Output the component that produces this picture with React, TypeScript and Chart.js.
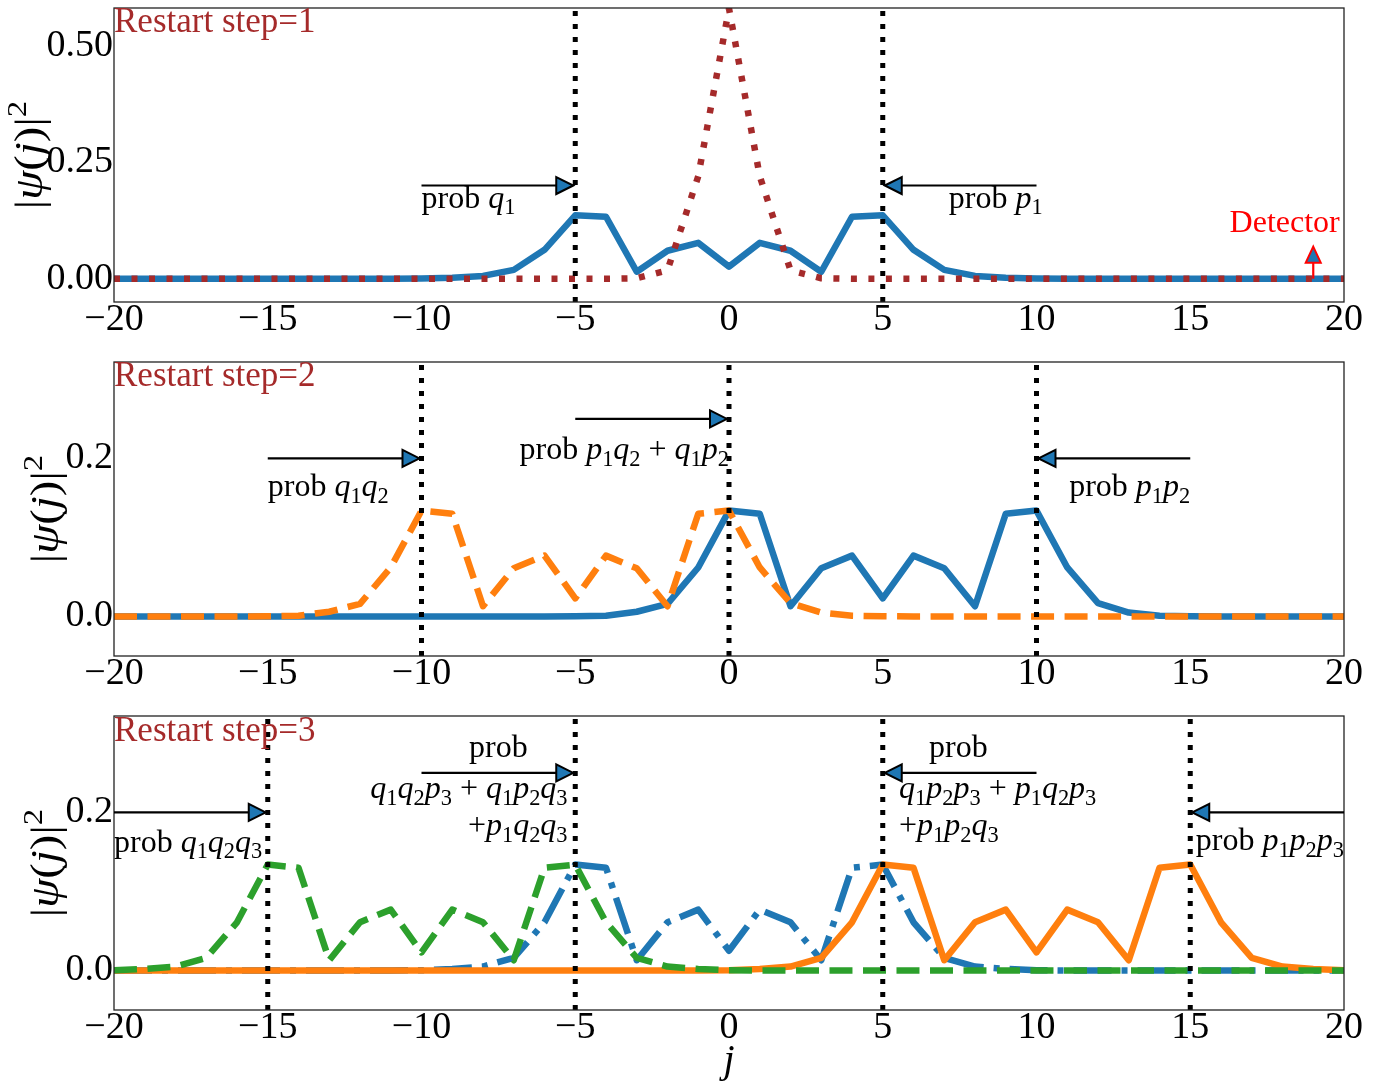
import React, { useEffect, useRef } from "react";
import { Chart, registerables } from "chart.js";
Chart.register(...registerables);

// ---------------- data ----------------
const J = [-20, -19, -18, -17, -16, -15, -14, -13, -12, -11, -10, -9, -8, -7, -6, -5, -4, -3, -2, -1, 0,
  1, 2, 3, 4, 5, 6, 7, 8, 9, 10, 11, 12, 13, 14, 15, 16, 17, 18, 19, 20];

// Panel 1 (restart step 1)
const P1_BLUE = [0, 0, 0, 0, 0, 0, 0, 0, 0, 0,
  0.0003, 0.002, 0.006, 0.019, 0.062, 0.136, 0.133, 0.015, 0.060, 0.077, 0.026,
  0.077, 0.060, 0.015, 0.133, 0.136, 0.062, 0.019, 0.006, 0.002, 0.0003,
  0, 0, 0, 0, 0, 0, 0, 0, 0, 0];
const P1_RED = [0, 0, 0, 0, 0, 0, 0, 0, 0, 0, 0, 0, 0, 0, 0, 0, 0,
  0.001, 0.018, 0.22, 0.58, 0.22, 0.018, 0.001,
  0, 0, 0, 0, 0, 0, 0, 0, 0, 0, 0, 0, 0, 0, 0, 0, 0];

// Panel 2 (restart step 2)
const P2_BLUE = [0, 0, 0, 0, 0, 0, 0, 0, 0, 0, 0, 0, 0, 0, 0,
  0.0003, 0.001, 0.006, 0.016, 0.062, 0.134, 0.130, 0.013, 0.061, 0.077, 0.023,
  0.077, 0.061, 0.013, 0.130, 0.134, 0.062, 0.017, 0.005, 0.001, 0.0003,
  0, 0, 0, 0, 0];
const P2_ORANGE = [0, 0, 0, 0, 0,
  0.0003, 0.001, 0.006, 0.016, 0.062, 0.134, 0.130, 0.013, 0.061, 0.077, 0.023,
  0.077, 0.061, 0.013, 0.130, 0.134, 0.062, 0.017, 0.005, 0.001, 0.0003,
  0, 0, 0, 0, 0, 0, 0, 0, 0, 0, 0, 0, 0, 0, 0];

// Panel 3 (restart step 3)
const P3_BLUE = [0, 0, 0, 0, 0, 0, 0, 0, 0, 0,
  0.0003, 0.002, 0.005, 0.016, 0.061, 0.134, 0.130, 0.013, 0.061, 0.077, 0.025,
  0.077, 0.061, 0.013, 0.130, 0.134, 0.061, 0.016, 0.005, 0.002, 0.0003,
  0, 0, 0, 0, 0, 0, 0, 0, 0, 0];
const P3_ORANGE = [0, 0, 0, 0, 0, 0, 0, 0, 0, 0, 0, 0, 0, 0, 0, 0, 0, 0, 0, 0,
  0.0003, 0.002, 0.005, 0.016, 0.061, 0.134, 0.130, 0.013, 0.061, 0.077, 0.023,
  0.077, 0.061, 0.013, 0.130, 0.134, 0.061, 0.016, 0.005, 0.002, 0.0003];
const P3_GREEN = [0.0003, 0.002, 0.005, 0.016, 0.061, 0.134, 0.130, 0.013, 0.061, 0.077, 0.023,
  0.077, 0.061, 0.013, 0.130, 0.134, 0.061, 0.016, 0.005, 0.002, 0.0003,
  0, 0, 0, 0, 0, 0, 0, 0, 0, 0, 0, 0, 0, 0, 0, 0, 0, 0, 0, 0];

const X_TICKS = [-20, -15, -10, -5, 0, 5, 10, 15, 20];
const X_TICK_LABELS = ["\u221220", "\u221215", "\u221210", "\u22125", "0", "5", "10", "15", "20"];
const Y_TICKS_1 = [0, 0.25, 0.5];
const Y_TICK_LABELS_1 = ["0.00", "0.25", "0.50"];
const Y_TICKS_23 = [0, 0.2];
const Y_TICK_LABELS_23 = ["0.0", "0.2"];

const VLINES_1 = [-5, 5];
const VLINES_2 = [-10, 0, 10];
const VLINES_3 = [-15, -5, 5, 15];

const Y_LABEL = "$|\u03c8(j)|^2$";
const X_LABEL = "$j$";

// ---------------- styles ----------------
const FAMILY = '"Liberation Serif", "Times New Roman", serif';
const BLUE = "#1f77b4";
const ORANGE = "#ff7f0e";
const GREEN = "#2ca02c";
const BROWN = "#a52a2a";
const LW = 6.5;
const DOTTED = [6, 11.5];
const DASHED = [23, 10.5];
const DASHDOT = [38, 10, 6, 10];

type Seg = { t: string; it?: boolean; sub?: boolean; sup?: boolean };
function parseRich(s: string): Seg[] {
  const out: Seg[] = [];
  let math = false;
  for (let i = 0; i < s.length; i++) {
    const c = s[i];
    if (c === "$") { math = !math; continue; }
    if (math && (c === "_" || c === "^")) {
      out.push({ t: s[i + 1], sub: c === "_", sup: c === "^" });
      i++;
      continue;
    }
    if (math && /[a-zA-Z\u03c8]/.test(c)) out.push({ t: c, it: true });
    else out.push({ t: c });
  }
  return out;
}
function drawRich(ctx: CanvasRenderingContext2D, s: string, x: number, y: number, size: number,
  align: string, color: string) {
  const segs = parseRich(s);
  const fontFor = (g: Seg) => `${g.it ? "italic " : ""}${g.sub || g.sup ? size * 0.7 : size}px ${FAMILY}`;
  let w = 0;
  const ws = segs.map((g) => { ctx.font = fontFor(g); const m = ctx.measureText(g.t).width; w += m; return m; });
  let cx = align === "left" ? x : align === "right" ? x - w : x - w / 2;
  ctx.fillStyle = color;
  ctx.textAlign = "left";
  ctx.textBaseline = "alphabetic";
  segs.forEach((g, i) => {
    ctx.font = fontFor(g);
    const dy = g.sub ? size * 0.2 : g.sup ? -size * 0.4 : 0;
    ctx.fillText(g.t, cx, y + dy);
    cx += ws[i];
  });
}

function drawArrow(ctx: CanvasRenderingContext2D, x0: number, y0: number, x1: number, y1: number,
  fill: string, edge: string, shaft: string, headLen: number, headW: number) {
  const ang = Math.atan2(y1 - y0, x1 - x0);
  const tx = x1 - 2 * Math.cos(ang), ty = y1 - 2 * Math.sin(ang);
  const bx = tx - headLen * Math.cos(ang), by = ty - headLen * Math.sin(ang);
  ctx.setLineDash([]);
  ctx.strokeStyle = shaft;
  ctx.lineWidth = 2.2;
  ctx.beginPath();
  ctx.moveTo(x0, y0);
  ctx.lineTo(bx, by);
  ctx.stroke();
  const nx = -Math.sin(ang), ny = Math.cos(ang);
  ctx.beginPath();
  ctx.moveTo(tx, ty);
  ctx.lineTo(bx + nx * headW / 2, by + ny * headW / 2);
  ctx.lineTo(bx - nx * headW / 2, by - ny * headW / 2);
  ctx.closePath();
  ctx.fillStyle = fill;
  ctx.fill();
  ctx.strokeStyle = edge;
  ctx.lineWidth = 2;
  ctx.lineJoin = "miter";
  ctx.stroke();
}

type Ann = { from: number[]; to: number[]; fill?: string; edge?: string; shaft?: string; hl?: number; hw?: number };
type Txt = { s: string; x: number; y: number; align: string; color?: string; size?: number };
type Panel = {
  key: string;
  series: { values: number[]; color: string; dash: number[]; order: number }[];
  yMin: number; yMax: number; yTicks: number[]; yTickLabels: string[];
  vlines: number[]; arrows: Ann[]; texts: Txt[]; yLabelX: number; xLabel: boolean; height: number;
};

function makeOverlay(p: Panel) {
  return {
    id: "overlay" + p.key,
    afterDatasetsDraw(chart: any) {
      const ctx: CanvasRenderingContext2D = chart.ctx;
      const a = chart.chartArea;
      const xs = chart.scales.x, ys = chart.scales.y;
      ctx.save();
      // vertical dotted lines
      ctx.strokeStyle = "#000";
      ctx.lineWidth = 5;
      ctx.lineCap = "butt";
      ctx.setLineDash([5, 8]);
      for (const v of p.vlines) {
        const px = xs.getPixelForValue(v);
        ctx.beginPath();
        ctx.moveTo(px, a.bottom);
        ctx.lineTo(px, a.top);
        ctx.stroke();
      }
      ctx.setLineDash([]);
      // frame
      ctx.strokeStyle = "#222";
      ctx.lineWidth = 1.3;
      ctx.strokeRect(a.left, a.top, a.right - a.left, a.bottom - a.top);
      // arrows
      for (const an of p.arrows) {
        drawArrow(ctx, xs.getPixelForValue(an.from[0]), ys.getPixelForValue(an.from[1]),
          xs.getPixelForValue(an.to[0]), ys.getPixelForValue(an.to[1]),
          an.fill || BLUE, an.edge || "#000", an.shaft || "#000", an.hl || 17, an.hw || 17);
      }
      // texts
      for (const t of p.texts) {
        drawRich(ctx, t.s, xs.getPixelForValue(t.x), ys.getPixelForValue(t.y), t.size || 32, t.align, t.color || "#000");
      }
      // y label (rotated)
      ctx.save();
      ctx.translate(p.yLabelX, (a.top + a.bottom) / 2);
      ctx.rotate(-Math.PI / 2);
      ctx.scale(1.17, 1);
      drawRich(ctx, Y_LABEL, 0, 0.28 * 40, 40, "center", "#000");
      ctx.restore();
      if (p.xLabel) {
        drawRich(ctx, X_LABEL, xs.getPixelForValue(0), a.bottom + 62, 40, "center", "#000");
      }
      ctx.restore();
    },
  };
}

const zeroPad = (s: any) => { s.paddingTop = 0; s.paddingBottom = 0; s.paddingLeft = 0; s.paddingRight = 0; };

function makeConfig(p: Panel): any {
  return {
    type: "line",
    data: {
      datasets: p.series.map((s, k) => ({
        label: "s" + k,
        data: J.map((j, i) => ({ x: j, y: s.values[i] })),
        borderColor: s.color,
        backgroundColor: s.color,
        borderWidth: LW,
        borderDash: s.dash,
        borderCapStyle: "butt",
        borderJoinStyle: "round",
        pointRadius: 0,
        fill: false,
        tension: 0,
        order: s.order,
      })),
    },
    options: {
      responsive: false,
      animation: false,
      events: [],
      layout: { padding: { left: 0, right: 41, top: 8, bottom: p.height - 350 } },
      plugins: { legend: { display: false }, tooltip: { enabled: false } },
      scales: {
        x: {
          type: "linear",
          min: -20,
          max: 20,
          grid: { display: false, drawTicks: false },
          border: { display: false },
          ticks: {
            color: "#000",
            font: { family: FAMILY, size: 38, lineHeight: 1 },
            padding: -1,
            autoSkip: false,
            maxRotation: 0,
            callback: (v: number) => X_TICK_LABELS[X_TICKS.indexOf(v)] ?? "",
          },
          afterBuildTicks: (s: any) => { s.ticks = X_TICKS.map((v) => ({ value: v })); },
          afterFit: (s: any) => { s.height = 48; zeroPad(s); },
        },
        y: {
          type: "linear",
          min: p.yMin,
          max: p.yMax,
          grid: { display: false, drawTicks: false },
          border: { display: false },
          ticks: {
            color: "#000",
            font: { family: FAMILY, size: 38, lineHeight: 1 },
            padding: 1,
            callback: (v: number) => {
              const i = p.yTicks.findIndex((t) => Math.abs(t - v) < 1e-9);
              return i >= 0 ? p.yTickLabels[i] : "";
            },
          },
          afterBuildTicks: (s: any) => { s.ticks = p.yTicks.map((v) => ({ value: v })); },
          afterFit: (s: any) => { s.width = 114; zeroPad(s); },
        },
      },
    },
    plugins: [makeOverlay(p)],
  };
}

const PANEL1: Panel = {
  key: "1",
  series: [
    { values: P1_RED, color: BROWN, dash: DOTTED, order: 0 },
    { values: P1_BLUE, color: BLUE, dash: [], order: 1 },
  ],
  yMin: -0.05, yMax: 0.581, yTicks: Y_TICKS_1, yTickLabels: Y_TICK_LABELS_1,
  vlines: VLINES_1,
  arrows: [
    { from: [-10, 0.2], to: [-5, 0.2] },
    { from: [10, 0.2], to: [5, 0.2] },
    { from: [19, 0], to: [19, 0.073], edge: "#ff0000", shaft: "#ff0000", hl: 16, hw: 15 },
  ],
  texts: [
    { s: "Restart step=1", x: -20, y: 0.53, align: "left", color: BROWN, size: 35 },
    { s: "prob $q_1$", x: -10, y: 0.152, align: "left" },
    { s: "prob $p_1$", x: 10.2, y: 0.152, align: "right" },
    { s: "Detector", x: 18.07, y: 0.1, align: "center", color: "#ff0000" },
  ],
  yLabelX: 31, xLabel: false, height: 350,
};

const PANEL2: Panel = {
  key: "2",
  series: [
    { values: P2_ORANGE, color: ORANGE, dash: DASHED, order: 0 },
    { values: P2_BLUE, color: BLUE, dash: [], order: 1 },
  ],
  yMin: -0.05, yMax: 0.322, yTicks: Y_TICKS_23, yTickLabels: Y_TICK_LABELS_23,
  vlines: VLINES_2,
  arrows: [
    { from: [-15, 0.2], to: [-10, 0.2] },
    { from: [-5, 0.25], to: [0, 0.25] },
    { from: [15, 0.2], to: [10, 0.2] },
  ],
  texts: [
    { s: "Restart step=2", x: -20, y: 0.2915, align: "left", color: BROWN, size: 35 },
    { s: "prob $q_1q_2$", x: -15, y: 0.152, align: "left" },
    { s: "prob $p_1q_2$ + $q_1p_2$", x: 0, y: 0.199, align: "right" },
    { s: "prob $p_1p_2$", x: 15, y: 0.152, align: "right" },
  ],
  yLabelX: 47, xLabel: false, height: 350,
};

const PANEL3: Panel = {
  key: "3",
  series: [
    { values: P3_GREEN, color: GREEN, dash: DASHED, order: 0 },
    { values: P3_ORANGE, color: ORANGE, dash: [], order: 1 },
    { values: P3_BLUE, color: BLUE, dash: DASHDOT, order: 2 },
  ],
  yMin: -0.05, yMax: 0.322, yTicks: Y_TICKS_23, yTickLabels: Y_TICK_LABELS_23,
  vlines: VLINES_3,
  arrows: [
    { from: [-20, 0.2], to: [-15, 0.2] },
    { from: [-10, 0.25], to: [-5, 0.25] },
    { from: [10, 0.25], to: [5, 0.25] },
    { from: [20, 0.2], to: [15, 0.2] },
  ],
  texts: [
    { s: "Restart step=3", x: -20, y: 0.291, align: "left", color: BROWN, size: 35 },
    { s: "prob $q_1q_2q_3$", x: -20, y: 0.15, align: "left" },
    { s: "prob", x: -7.5, y: 0.27, align: "center" },
    { s: "$q_1q_2p_3$ + $q_1p_2q_3$", x: -5.25, y: 0.218, align: "right" },
    { s: "+$p_1q_2q_3$", x: -5.25, y: 0.171, align: "right" },
    { s: "prob", x: 7.46, y: 0.27, align: "center" },
    { s: "$q_1p_2p_3$ + $p_1q_2p_3$", x: 5.53, y: 0.218, align: "left" },
    { s: "+$p_1p_2q_3$", x: 5.53, y: 0.171, align: "left" },
    { s: "prob $p_1p_2p_3$", x: 20, y: 0.152, align: "right" },
  ],
  yLabelX: 47, xLabel: true, height: 383,
};

export default function App() {
  const r1 = useRef<HTMLCanvasElement>(null);
  const r2 = useRef<HTMLCanvasElement>(null);
  const r3 = useRef<HTMLCanvasElement>(null);
  useEffect(() => {
    const charts = [
      new Chart(r1.current as HTMLCanvasElement, makeConfig(PANEL1)),
      new Chart(r2.current as HTMLCanvasElement, makeConfig(PANEL2)),
      new Chart(r3.current as HTMLCanvasElement, makeConfig(PANEL3)),
    ];
    return () => charts.forEach((c) => c.destroy());
  }, []);
  const cs = (top: number, h: number): React.CSSProperties => ({
    position: "absolute", left: 0, top, width: 1385, height: h, display: "block",
  });
  return (
    <div style={{ position: "fixed", left: 0, top: 0, width: 1385, height: 1091, background: "#fff" }}>
      <canvas ref={r1} width={1385} height={350} style={cs(0, 350)} />
      <canvas ref={r2} width={1385} height={350} style={cs(354, 350)} />
      <canvas ref={r3} width={1385} height={383} style={cs(708, 383)} />
    </div>
  );
}
